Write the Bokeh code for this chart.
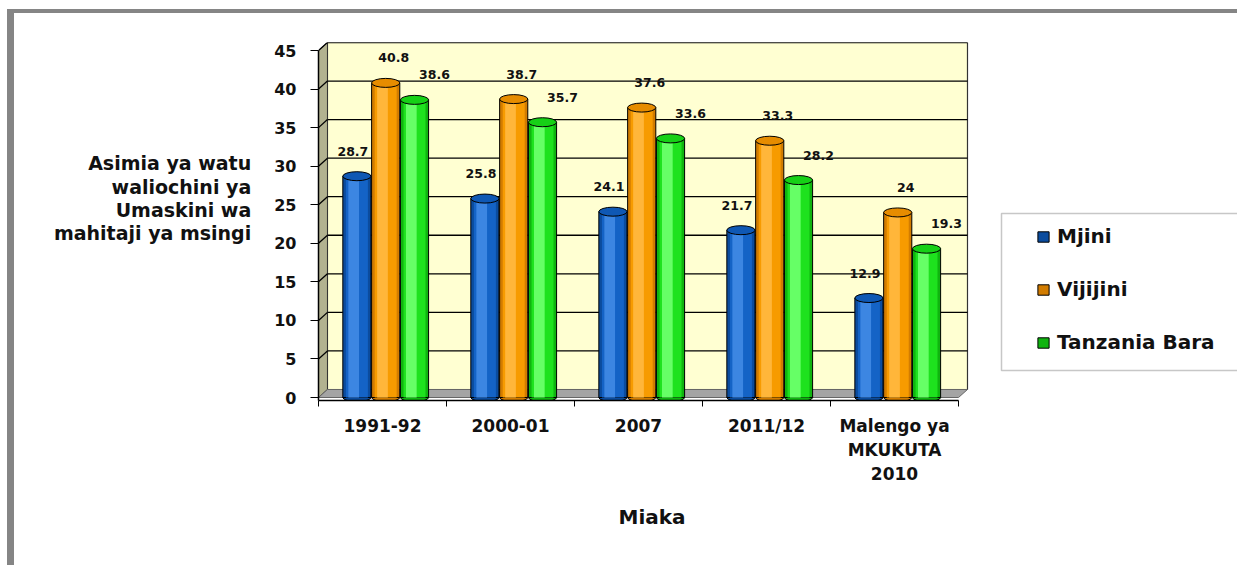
from bokeh.plotting import figure
from bokeh.models import (FixedTicker, LabelSet, Legend, LegendItem,
                          ColumnDataSource, BoxAnnotation, Title)
from bokeh.core.properties import value
from bokeh.embed import file_html
from bokeh.resources import INLINE

# ---------------- data ----------------
categories = ["1991-92", "2000-01", "2007", "2011/12", "Malengo ya\nMKUKUTA\n2010"]
series_names = ["Mjini", "Vijijini", "Tanzania Bara"]
mjini = [28.7, 25.8, 24.1, 21.7, 12.9]
vijijini = [40.8, 38.7, 37.6, 33.3, 24.0]
tanzania_bara = [38.6, 35.7, 33.6, 28.2, 19.3]
y_ticks = [0, 5, 10, 15, 20, 25, 30, 35, 40, 45]
y_title = "Asimia ya watu\nwaliochini ya\nUmaskini wa\nmahitaji ya msingi"
x_title = "Miaka"

# ---------------- styles ----------------
FONT = "DejaVu Sans"
# (dark edge, mid, highlight, top cap)
palettes = [
    ("#0B4C9E", "#1463C6", "#3C86E2", "#0F58B4"),
    ("#D27C00", "#F79B00", "#FFB63A", "#E68C00"),
    ("#10B410", "#1EE21E", "#66FF66", "#16D016"),
]
offsets = [-0.2, 0.025, 0.25]
label_dx = [-4, 8, 20]
bw = 0.22
dx, dy = 0.07, 1.04   # 3D depth of the walls
ncat = len(categories)

W, H = 1230, 556
p = figure(width=W, height=H, x_range=(0, 7.234), y_range=(-0.389, 46.04),
           output_backend="svg", toolbar_location=None,
           min_border_left=304, min_border_right=0,
           min_border_top=29, min_border_bottom=169)
p.styles = {"border-left": "7px solid #858585", "border-top": "4px solid #858585",
            "margin-left": "7px", "margin-top": "9px"}
p.outline_line_color = None
p.xgrid.visible = False
p.ygrid.visible = False
p.background_fill_color = "white"
p.border_fill_color = "white"

# ---------------- 3D box ----------------
p.quad(left=dx, right=ncat + dx, bottom=dy, top=y_ticks[-1] + dy,
       fill_color="#FFFFD2", line_color="#333333", line_width=1.2)
p.patch([0, dx, dx, 0], [0, dy, y_ticks[-1] + dy, y_ticks[-1]],
        fill_color="#B2B290", line_color="#333333", line_width=1)
p.patch([0, ncat, ncat + dx, dx], [0, 0, dy, dy],
        fill_color="#A4A4A4", line_color="#666666", line_width=1)
gy = [v + dy for v in y_ticks[1:]]
p.segment(x0=[dx] * len(gy), y0=gy, x1=[ncat + dx] * len(gy), y1=gy,
          line_color="black", line_width=1.3)
p.segment(x0=[0] * len(gy), y0=y_ticks[1:], x1=[dx] * len(gy), y1=gy,
          line_color="black", line_width=1.3)

# ---------------- cylinders ----------------
legend_items = []
for vals, name, pal, off, ldx in zip([mjini, vijijini, tanzania_bara], series_names,
                                     palettes, offsets, label_dx):
    xs = [i + 0.5 + off for i in range(ncat)]
    dark, mid, light, topc = pal
    src = ColumnDataSource(dict(x=xs, top=vals, zero=[0] * ncat,
                                xl=[x - 0.025 for x in xs],
                                lab=[f"{v:g}" for v in vals]))
    p.ellipse(x="x", y="zero", width=bw, height=8, height_units="screen",
              fill_color=dark, line_color="black", line_width=1, source=src)
    body = p.vbar(x="x", top="top", bottom=0, width=bw, fill_color=dark,
                  line_color="black", line_width=1, source=src)
    p.vbar(x="x", top="top", bottom=0, width=bw * 0.78, fill_color=mid,
           line_alpha=0, source=src)
    p.vbar(x="xl", top="top", bottom=0, width=bw * 0.38, fill_color=light,
           line_alpha=0, source=src)
    p.ellipse(x="x", y="top", width=bw, height=9, height_units="screen",
              fill_color=topc, line_color="black", line_width=1, source=src)
    p.add_layout(LabelSet(x="x", y="top", text="lab", source=src,
                          x_offset=ldx, y_offset=25, text_align="center",
                          text_baseline="middle", text_font=value(FONT),
                          text_font_style="bold", text_font_size="12.5px",
                          text_color="#111111"))
    legend_items.append(LegendItem(label=name, renderers=[body]))

# ---------------- axes ----------------
xa = p.xaxis[0]
xa.ticker = FixedTicker(ticks=[i + 0.5 for i in range(ncat)],
                        minor_ticks=list(range(ncat + 1)))
xa.major_label_overrides = {i + 0.5: c for i, c in enumerate(categories)}
xa.bounds = (0, ncat)
xa.major_tick_out = 0
xa.major_tick_in = 0
xa.minor_tick_out = 6
xa.minor_tick_in = 0
xa.minor_tick_line_color = "black"
xa.axis_line_color = "black"
xa.axis_line_width = 1.5
xa.major_label_standoff = 9
xa.major_label_text_font = FONT
xa.major_label_text_font_style = "bold"
xa.major_label_text_font_size = "17px"
xa.major_label_text_line_height = 1.22
xa.major_label_text_color = "#111111"

# x title placed under the chart's own axis span (frame is widened for legend)
p.add_layout(Title(text=x_title, align="left", offset=300, standoff=30,
                   text_font=FONT, text_font_style="bold",
                   text_font_size="20px", text_color="#111111"), "below")

ya = p.yaxis[0]
ya.ticker = FixedTicker(ticks=y_ticks)
ya.bounds = (-0.389, y_ticks[-1])
ya.major_tick_out = 8
ya.major_tick_in = 0
ya.minor_tick_out = 0
ya.minor_tick_in = 0
ya.axis_line_color = "black"
ya.axis_line_width = 1.5
ya.major_label_standoff = 14
ya.major_label_text_font = FONT
ya.major_label_text_font_style = "bold"
ya.major_label_text_font_size = "16px"
ya.major_label_text_color = "#111111"
ya.axis_label = y_title + "\n\n"
ya.axis_label_orientation = "horizontal"
ya.axis_label_standoff = 20
ya.axis_label_text_align = "center"
ya.axis_label_text_font = FONT
ya.axis_label_text_font_style = "bold"
ya.axis_label_text_font_size = "19px"
ya.axis_label_text_line_height = 1.06
ya.axis_label_text_color = "#111111"

# ---------------- legend (inside the widened frame) ----------------
p.add_layout(BoxAnnotation(left=683, right=1000, bottom=30, top=187,
                           left_units="screen", right_units="screen",
                           bottom_units="screen", top_units="screen",
                           fill_color="white", fill_alpha=1,
                           line_color="#444444", line_width=1.5))
legend = Legend(items=legend_items, location=(708, 36), padding=10,
                spacing=29, label_height=20, glyph_height=13, glyph_width=14,
                label_standoff=7, margin=0, border_line_alpha=0,
                background_fill_alpha=0,
                label_text_font=FONT, label_text_font_style="bold",
                label_text_font_size="20px", label_text_color="#111111")
p.add_layout(legend)

open("out.html", "w").write(file_html(p, INLINE))
